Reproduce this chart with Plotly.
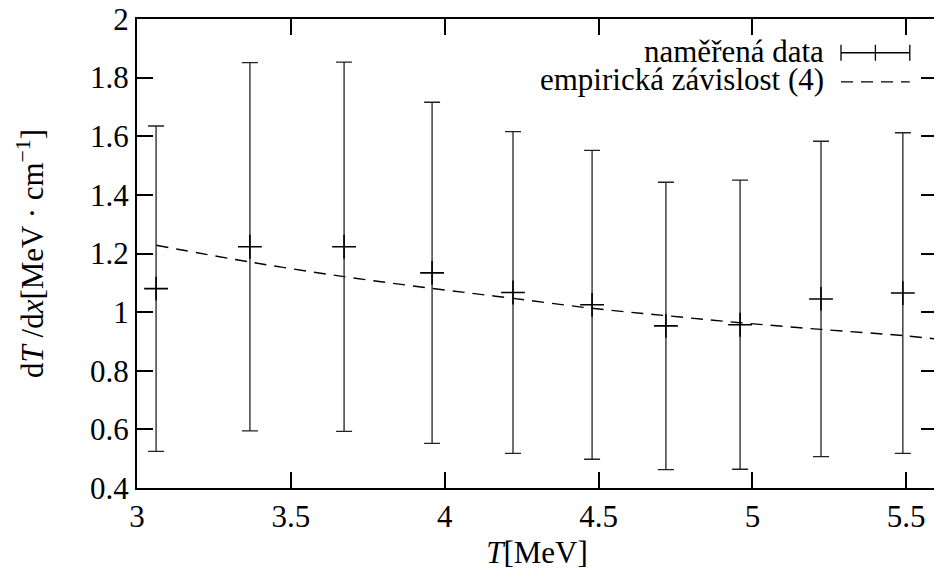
import plotly.graph_objects as go

# measured data
T_meas = [3.062, 3.367, 3.673, 3.959, 4.222, 4.479, 4.719, 4.960, 5.223, 5.489]
dTdx_meas = [1.080, 1.223, 1.223, 1.134, 1.067, 1.025, 0.953, 0.957, 1.045, 1.065]
dTdx_err = [0.555, 0.628, 0.630, 0.582, 0.549, 0.527, 0.490, 0.493, 0.538, 0.547]

# empirical dependence (4), sampled from the curve
T_model = [3.062, 3.367, 3.673, 3.959, 4.222, 4.479, 4.719, 4.960, 5.223, 5.489, 5.6]
dTdx_model = [1.228, 1.171, 1.121, 1.081, 1.047, 1.013, 0.988, 0.964, 0.941, 0.920, 0.908]

x_ticks = [3, 3.5, 4, 4.5, 5, 5.5]
y_ticks = [0.4, 0.6, 0.8, 1.0, 1.2, 1.4, 1.6, 1.8, 2.0]
y_ticklabels = ["0.4", "0.6", "0.8", "1", "1.2", "1.4", "1.6", "1.8", "2"]

FONT = "Liberation Serif, serif"
FS = 31

fig = go.Figure()

fig.add_trace(go.Scatter(
    x=T_model, y=dTdx_model, mode="lines", line_shape="spline",
    line=dict(color="black", width=1.4, dash="12px,8px"),
    showlegend=False, hoverinfo="skip"))

fig.add_trace(go.Scatter(
    x=T_meas, y=dTdx_meas, mode="markers",
    marker=dict(symbol="cross-thin", size=17, line=dict(color="black", width=1.6), color="black"),
    error_y=dict(type="data", array=dTdx_err, visible=True, color="#222222", thickness=1.3, width=8),
    showlegend=False))

# legend (drawn manually to mimic the gnuplot key)
ax0, ax1 = 0.880, 0.966
axc = (ax0 + ax1) / 2
y1, y2 = 0.928, 0.866
cap = 0.017
shapes = [
    dict(type="line", xref="paper", yref="paper", x0=ax0, x1=ax1, y0=y1, y1=y1, line=dict(color="black", width=1.3)),
    dict(type="line", xref="paper", yref="paper", x0=ax0, x1=ax0, y0=y1 - cap, y1=y1 + cap, line=dict(color="black", width=1.3)),
    dict(type="line", xref="paper", yref="paper", x0=ax1, x1=ax1, y0=y1 - cap, y1=y1 + cap, line=dict(color="black", width=1.3)),
    dict(type="line", xref="paper", yref="paper", x0=axc, x1=axc, y0=y1 - cap, y1=y1 + cap, line=dict(color="black", width=1.3)),
    dict(type="line", xref="paper", yref="paper", x0=ax0, x1=ax1, y0=y2, y1=y2, line=dict(color="black", width=1.4, dash="12px,8px")),
]
annotations = [
    dict(xref="paper", yref="paper", x=0.861, y=y1 + 0.003, text="naměřená data", showarrow=False,
         xanchor="right", yanchor="middle", font=dict(family=FONT, size=FS, color="black")),
    dict(xref="paper", yref="paper", x=0.861, y=y2 + 0.006, text="empirická závislost (4)", showarrow=False,
         xanchor="right", yanchor="middle", font=dict(family=FONT, size=FS, color="black")),
]

# page body has an 8px margin; figure sized so the plot area lands where the reference has it
fig.update_layout(
    width=934, height=569,
    margin=dict(l=129, r=5, t=11, b=89, autoexpand=False),
    paper_bgcolor="white", plot_bgcolor="white",
    font=dict(family=FONT, size=FS, color="black"),
    shapes=shapes, annotations=annotations,
    xaxis=dict(range=[3, 5.6], tickvals=x_ticks, ticks="inside", ticklen=16, tickwidth=2,
               tickcolor="black", showline=True, linecolor="black", linewidth=2, mirror="allticks",
               showgrid=False, zeroline=False, automargin=False, ticklabeloverflow="allow",
               title=dict(text="<i>T</i>[MeV]", font=dict(family=FONT, size=FS), standoff=8)),
    yaxis=dict(range=[0.4, 2.0], tickvals=y_ticks, ticktext=y_ticklabels, ticks="inside", ticklen=16,
               tickwidth=2, tickcolor="black", showline=True, linecolor="black", linewidth=2,
               mirror="allticks", showgrid=False, zeroline=False, automargin=False,
               ticklabeloverflow="allow",
               title=dict(text="d<i>T</i> /d<i>x</i>[MeV · cm<sup>−1</sup>]", font=dict(family=FONT, size=FS),
                          standoff=37)),
)

fig.write_html("out.html")
